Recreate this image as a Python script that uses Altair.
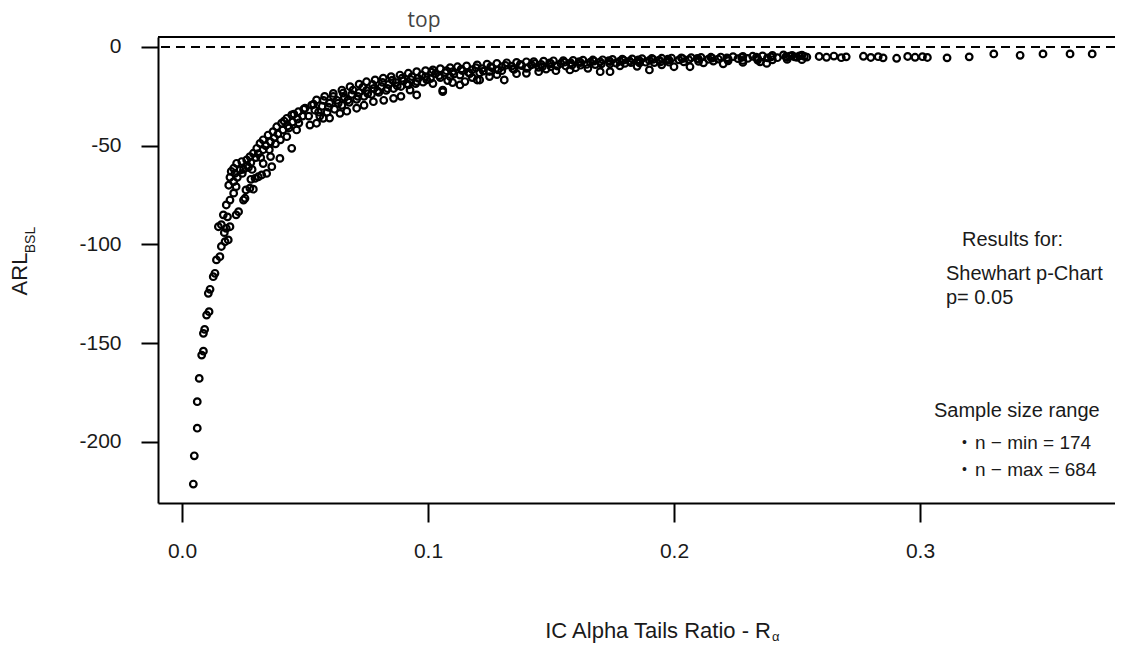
import altair as alt
import pandas as pd

# ---- data (x = IC alpha tails ratio, y = ARL_BSL) ----
tail_x = [0.0046, 0.0050, 0.0062, 0.0062, 0.0070, 0.0080, 0.0087, 0.0087, 0.0092, 0.0100, 0.0110,
          0.0107, 0.0114, 0.0127, 0.0134, 0.0140, 0.0154, 0.0160, 0.0175, 0.0188, 0.0148, 0.0160,
          0.0180, 0.0195, 0.0168, 0.0180, 0.0195, 0.0185, 0.0172]
tail_y = [-221.3, -207, -193, -179.6, -167.8, -156, -154, -145, -143, -135.7, -134,
          -124.7, -122.7, -116.3, -114.6, -107.8, -106.2, -101, -98.6, -97.7, -91, -90,
          -91.8, -91, -85, -80, -77.5, -86, -94]

knee_x = [0.0210, 0.0220, 0.0210, 0.0215, 0.0236, 0.0210, 0.0222, 0.0243, 0.0263, 0.0276, 0.0290,
          0.0304, 0.0317, 0.0330, 0.0350, 0.0370, 0.0385, 0.0405, 0.0426, 0.0446, 0.0473, 0.0500,
          0.0527,
          0.0250, 0.0265, 0.0280, 0.0300, 0.0310, 0.0330, 0.0340, 0.0360, 0.0375, 0.0390, 0.0410,
          0.0430, 0.0450, 0.0470, 0.0490,
          0.0220, 0.0230, 0.0250, 0.0256, 0.0260, 0.0276, 0.0290, 0.0297, 0.0310, 0.0324, 0.0344,
          0.0365, 0.0398, 0.0446, 0.0426, 0.0466, 0.0520,
          0.0190, 0.0195, 0.0200, 0.0225, 0.0245, 0.0270, 0.0285, 0.0320, 0.0355, 0.0380, 0.0400,
          0.0280, 0.0330, 0.0360]
knee_y = [-74, -70.7, -68.2, -64, -62.3, -61.4, -58.9, -58, -57.2, -55.5, -53.8,
          -51.3, -48.8, -47, -44.6, -42.9, -40.4, -38.6, -36.1, -34.4, -32.8, -31,
          -29.4,
          -62, -60, -58.5, -56, -54, -52, -50, -48, -46, -44, -42,
          -40, -38, -36.5, -35,
          -85, -83.4, -77.5, -76.6, -72.4, -71.5, -72, -66.5, -65.7, -64.8, -64,
          -60.6, -56.4, -51.3, -45.4, -42, -39.5,
          -70, -66, -63, -66, -64, -61, -62, -56, -52, -49, -47,
          -67, -59, -55.5]

mid_x = [0.0547, 0.0580, 0.0615, 0.0650, 0.0683, 0.0720, 0.0750, 0.0785, 0.0818, 0.0850, 0.0886,
         0.0920, 0.0954, 0.0990, 0.1020,
         0.0540, 0.0570, 0.0600, 0.0630, 0.0660, 0.0690, 0.0720, 0.0750, 0.0780, 0.0810, 0.0840,
         0.0870, 0.0900, 0.0930, 0.0960, 0.0990,
         0.0560, 0.0590, 0.0620, 0.0650, 0.0680, 0.0710, 0.0740, 0.0770, 0.0800, 0.0830, 0.0860,
         0.0890, 0.0920, 0.0950, 0.0980,
         0.0547, 0.0574, 0.0642, 0.0710, 0.0778, 0.0860, 0.0927, 0.0954,
         0.0600, 0.0670, 0.0740, 0.0820, 0.0890,
         0.0415, 0.0455, 0.0495, 0.0535, 0.0575, 0.0615, 0.0655, 0.0695, 0.0735, 0.0775, 0.0815,
         0.0855, 0.0895, 0.0935, 0.0975,
         0.0435, 0.0475, 0.0515, 0.0555, 0.0595, 0.0635, 0.0675, 0.0715, 0.0755, 0.0795, 0.0835,
         0.0875, 0.0915, 0.0955, 0.0995]
mid_y = [-26.8, -25, -23.5, -21.8, -20.1, -18.8, -17.6, -16.7, -15.8, -15, -14.2,
         -13.3, -12.5, -12, -11.6,
         -32, -30, -28.5, -27, -25.5, -24, -23, -22, -21, -20, -19,
         -18, -17.2, -16.5, -15.8, -15,
         -35, -33, -31.5, -29.5, -28, -26.5, -25, -24, -23, -22, -21,
         -20, -19.2, -18.5, -17.8,
         -38.6, -36.1, -33.6, -31, -27.7, -26, -21.8, -24.3,
         -36, -32.5, -29.5, -27, -25,
         -37.5, -34, -31.5, -29, -27, -25, -23.3, -21.8, -20.3, -19, -17.9,
         -16.8, -15.8, -15, -14.2,
         -41, -38.5, -35, -33, -30.5, -28.5, -26.8, -25, -23.6, -22.2, -21,
         -19.7, -18.6, -17.5, -16.6]

flat_x = [0.1050, 0.1090, 0.1120, 0.1157, 0.1200, 0.1240, 0.1280, 0.1320, 0.1360, 0.1400, 0.1430,
          0.1470, 0.1510, 0.1550, 0.1590, 0.1630, 0.1670, 0.1710, 0.1750, 0.1790, 0.1830, 0.1870,
          0.1910, 0.1950, 0.1990,
          0.1030, 0.1070, 0.1100, 0.1140, 0.1180, 0.1220, 0.1260, 0.1300, 0.1340, 0.1380, 0.1420,
          0.1460, 0.1500, 0.1540, 0.1580, 0.1620, 0.1660, 0.1700, 0.1740, 0.1780, 0.1820, 0.1860,
          0.1900, 0.1940, 0.1980,
          0.1010, 0.1050, 0.1090, 0.1130, 0.1170, 0.1210, 0.1250, 0.1300, 0.1350, 0.1400, 0.1450,
          0.1500, 0.1560, 0.1620, 0.1680, 0.1740, 0.1800, 0.1860, 0.1920, 0.1980,
          0.1060, 0.1060, 0.1130, 0.1200, 0.1210, 0.1310, 0.1400, 0.1577, 0.1700, 0.1740, 0.1900,
          0.2000, 0.2065, 0.1100, 0.1250, 0.1450, 0.1650, 0.1850,
          0.1015, 0.1075, 0.1135, 0.1195, 0.1255, 0.1315, 0.1375, 0.1435, 0.1495, 0.1555, 0.1615,
          0.1675, 0.1735, 0.1795, 0.1855, 0.1915, 0.1975,
          0.1045, 0.1105, 0.1165, 0.1225, 0.1285, 0.1345, 0.1405, 0.1465, 0.1525, 0.1585, 0.1645,
          0.1705, 0.1765, 0.1825, 0.1885, 0.1945,
          0.1150, 0.1280, 0.1360, 0.1480, 0.1520, 0.1600, 0.1780, 0.1950, 0.1020, 0.1080, 0.1180]
flat_y = [-11, -10.5, -10, -9.6, -9.1, -8.7, -8.3, -8, -7.8, -7.5, -7.4,
          -7.2, -7, -6.9, -6.8, -6.7, -6.6, -6.5, -6.3, -6.2, -6, -5.9,
          -5.8, -5.7, -5.6,
          -13.5, -13, -12.5, -12, -11.5, -11, -10.5, -10, -9.7, -9.4, -9,
          -8.8, -8.5, -8.3, -8.1, -7.9, -7.7, -7.5, -7.4, -7.2, -7.1, -7,
          -6.8, -6.7, -6.6,
          -16, -15.5, -15, -14.2, -13.5, -13, -12.4, -12, -11.3, -10.8, -10.3,
          -10, -9.6, -9.2, -8.9, -8.6, -8.3, -8.1, -7.9, -7.7,
          -21.8, -22.6, -19.2, -16.7, -16.7, -16.7, -13.3, -11.6, -12.5, -12.5, -11.6,
          -10, -10, -18, -15, -12.5, -10.8, -9.8,
          -12.8, -12, -11.2, -10.5, -9.9, -9.3, -8.8, -8.4, -8, -7.7, -7.4,
          -7.1, -6.9, -6.7, -6.5, -6.3, -6.1,
          -14.5, -13.7, -12.9, -12.2, -11.6, -11, -10.5, -10, -9.6, -9.2, -8.8,
          -8.5, -8.2, -7.9, -7.7, -7.5,
          -17.5, -14, -13.5, -11.2, -12, -10.5, -9.5, -9, -18.5, -17, -15.5]

right_x = [0.2030, 0.2070, 0.2110, 0.2150, 0.2190, 0.2240, 0.2280, 0.2320, 0.2360, 0.2400, 0.2445,
           0.2480, 0.2520,
           0.2020, 0.2060, 0.2100, 0.2140, 0.2180, 0.2220, 0.2260, 0.2300, 0.2340, 0.2380, 0.2420,
           0.2460, 0.2500, 0.2540,
           0.2040, 0.2100, 0.2160, 0.2220, 0.2280, 0.2340, 0.2400, 0.2460, 0.2377, 0.2200,
           0.2470, 0.2490, 0.2510, 0.2530,
           0.2035, 0.2095, 0.2155, 0.2215, 0.2275, 0.2335, 0.2395, 0.2455,
           0.2120, 0.2280, 0.2350, 0.2520,
           0.2590, 0.2620, 0.2650, 0.2680, 0.2700, 0.2770, 0.2800, 0.2830, 0.2850, 0.2905, 0.2950,
           0.2980, 0.3010, 0.3030, 0.3110, 0.3200, 0.3300, 0.3407, 0.3500, 0.3610, 0.3700]
right_y = [-5.5, -5.4, -5.3, -5.2, -5.1, -4.9, -4.8, -4.7, -4.5, -4.3, -4.0,
           -4.2, -4.1,
           -6.5, -6.4, -6.3, -6.2, -6.1, -6, -5.9, -5.8, -5.7, -5.5, -5.4,
           -5.3, -5.2, -5.1,
           -7.5, -7.3, -7.1, -7, -6.8, -6.6, -6.5, -6.3, -8.3, -8.5,
           -4.6, -5, -4.5, -4.8,
           -5.9, -5.8, -5.6, -5.5, -5.3, -5.2, -5, -4.9,
           -8, -7.8, -7.5, -6.4,
           -4.8, -5.2, -4.6, -5.4, -5, -4.7, -5.3, -4.9, -5.5, -5.7, -4.8,
           -5.2, -4.9, -5.3, -5.5, -5, -3.5, -4.2, -3.5, -3.5, -3.5]

x_ticks = [0.0, 0.1, 0.2, 0.3]
y_ticks = [0, -50, -100, -150, -200]

# ---- layout ----
W, H = 957, 466
X_DOM = [-0.009756, 0.37927]
Y_DOM = [-230.89, 5.063]
FONT = "Liberation Sans"
TXT = "#1a1a1a"

pts = pd.DataFrame({"x": tail_x + knee_x + mid_x + flat_x + right_x,
                    "y": tail_y + knee_y + mid_y + flat_y + right_y})

xscale = alt.Scale(domain=X_DOM, nice=False, zero=False)
yscale = alt.Scale(domain=Y_DOM, nice=False, zero=False)

points = alt.Chart(pts).mark_point(
    shape="circle", filled=False, size=44, strokeWidth=2.2, color="black", opacity=1
).encode(
    x=alt.X("x:Q", scale=xscale,
            axis=alt.Axis(values=x_ticks, format=".1f", title=None, grid=False,
                          tickSize=19, labelPadding=18)),
    y=alt.Y("y:Q", scale=yscale,
            axis=alt.Axis(values=y_ticks, labelExpr="datum.value + ''", title=None, grid=False,
                          tickSize=17, labelPadding=20)),
)

zero = alt.Chart(pd.DataFrame({"y": [0]})).mark_rule(
    strokeDash=[9, 6], strokeWidth=2, color="black"
).encode(y=alt.Y("y:Q", scale=yscale))

top_border = alt.Chart(pd.DataFrame({"a": [0]})).mark_rule(color="black", strokeWidth=2).encode(
    x=alt.value(0), x2=alt.value(W), y=alt.value(0)
)

# annotations (pixel positions relative to the plot area)
ann_left = pd.DataFrame({
    "px": [804, 788, 788, 776, 804, 817, 804, 817],
    "py": [203, 237, 261, 374, 406, 406, 433, 433],
    "t": ["Results for:", "Shewhart p-Chart", "p= 0.05", "Sample size range",
          "\u2022", "n \u2212 min = 174", "\u2022", "n \u2212 max = 684"],
    "fs": [20, 20, 20, 20, 14, 19, 14, 19],
})
legend_text = alt.Chart(ann_left).mark_text(
    align="left", baseline="middle", font=FONT, color=TXT
).encode(x=alt.X("px:Q", scale=None), y=alt.Y("py:Q", scale=None),
         text="t:N", size=alt.Size("fs:Q", scale=None))

xtitle_main = alt.Chart(pd.DataFrame({"px": [613], "py": [594], "t": ["IC Alpha Tails Ratio - R"]})).mark_text(
    align="right", baseline="middle", font=FONT, fontSize=22, color=TXT
).encode(x=alt.X("px:Q", scale=None), y=alt.Y("py:Q", scale=None), text="t:N")
xtitle_sub = alt.Chart(pd.DataFrame({"px": [614], "py": [600], "t": ["\u03b1"]})).mark_text(
    align="left", baseline="middle", font=FONT, fontSize=13, color=TXT
).encode(x=alt.X("px:Q", scale=None), y=alt.Y("py:Q", scale=None), text="t:N")

ytitle_main = alt.Chart(pd.DataFrame({"px": [-138], "py": [237], "t": ["ARL"]})).mark_text(
    align="center", baseline="middle", font=FONT, fontSize=22, color=TXT, angle=270
).encode(x=alt.X("px:Q", scale=None), y=alt.Y("py:Q", scale=None), text="t:N")
ytitle_sub = alt.Chart(pd.DataFrame({"px": [-127], "py": [203], "t": ["BSL"]})).mark_text(
    align="center", baseline="middle", font=FONT, fontSize=14, color=TXT, angle=270
).encode(x=alt.X("px:Q", scale=None), y=alt.Y("py:Q", scale=None), text="t:N")

top_title = alt.Chart(pd.DataFrame({"px": [266], "py": [-16], "t": ["top"]})).mark_text(
    align="center", baseline="middle", font="Open Sans", fontSize=21, color="#444"
).encode(x=alt.X("px:Q", scale=None), y=alt.Y("py:Q", scale=None), text="t:N")

chart = alt.layer(
    zero, points, top_border, legend_text, xtitle_main, xtitle_sub, ytitle_main, ytitle_sub, top_title
).properties(
    width=W, height=H,
    padding={"left": 150, "top": 29, "right": 0, "bottom": 142},
    autosize=alt.AutoSizeParams(type="none"),
).configure_view(stroke=None).configure_axis(
    labelFont=FONT, labelFontSize=21, labelColor=TXT,
    tickColor="black", tickWidth=2, domainColor="black", domainWidth=2,
)

chart.save("out.html", embed_options={"renderer": "svg", "actions": False})
